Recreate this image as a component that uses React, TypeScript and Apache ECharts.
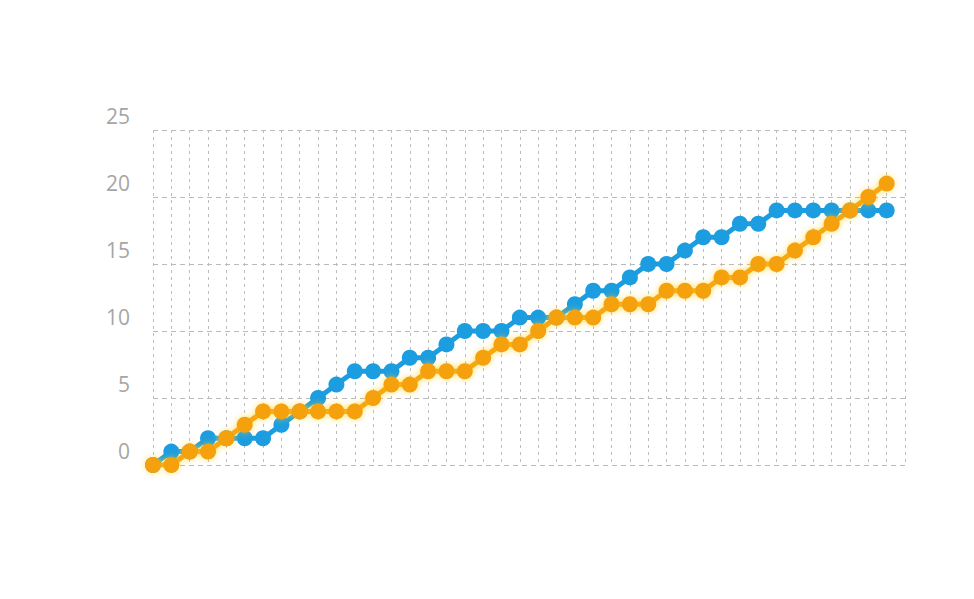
import { useEffect, useRef } from 'react';
import * as echarts from 'echarts';

// 横轴：41 个点，外加一个空位（最右的竖线）
const categories: string[] = Array.from({ length: 42 }, (_, i) => String(i + 1));

// 读图所得数值（刻度单位）
const blueValues = [
  -1, 0, 0, 1, 1, 1, 1, 2, 3, 4, 5, 6, 6, 6, 7, 7, 8, 9, 9, 9, 10,
  10, 10, 11, 12, 12, 13, 14, 14, 15, 16, 16, 17, 17, 18, 18, 18, 18, 18, 18, 18,
];
const orangeValues = [
  -1, -1, 0, 0, 1, 2, 3, 3, 3, 3, 3, 3, 4, 5, 5, 6, 6, 6, 7, 8, 8,
  9, 10, 10, 10, 11, 11, 11, 12, 12, 12, 13, 13, 14, 14, 15, 16, 17, 18, 19, 20,
];

// 网格线比刻度文字低一格，所以轴上整体 +1
const SHIFT = 1;
const yTicks = [0, 5, 10, 15, 20, 25];

export default function App() {
  const ref = useRef<HTMLDivElement>(null);

  useEffect(() => {
    if (!ref.current) return;
    const chart = echarts.init(ref.current, undefined, { renderer: 'svg' });
    const option: echarts.EChartsOption = {
      animation: false,
      backgroundColor: '#fff',
      grid: { left: 153, right: 69, top: 130, bottom: 134 },
      xAxis: {
        type: 'category',
        data: categories,
        boundaryGap: false,
        axisLine: { show: false },
        axisTick: { show: false },
        axisLabel: { show: false },
        splitLine: {
          show: true,
          lineStyle: { color: '#bdbdbd', width: 1, type: [3, 4] },
        },
      },
      yAxis: {
        type: 'value',
        min: 0,
        max: 25,
        interval: 5,
        axisLine: { show: false },
        axisTick: { show: false },
        axisLabel: {
          margin: 23,
          color: '#a6a6a6',
          fontSize: 21,
          fontFamily: 'Open Sans',
          verticalAlign: 'bottom',
          lineHeight: 28,
          formatter: (v: number) => (yTicks.includes(v) ? String(v) : ''),
        },
        splitLine: {
          show: true,
          lineStyle: { color: '#bababa', width: 1, type: [5, 4] },
        },
      },
      series: [
        {
          type: 'line',
          data: blueValues.map((v) => v + SHIFT),
          symbol: 'circle',
          symbolSize: 16,
          showSymbol: true,
          showAllSymbol: true,
          lineStyle: { color: '#1b9de0', width: 5 },
          itemStyle: { color: '#1b9de0' },
        },
        {
          type: 'line',
          data: orangeValues.map((v) => v + SHIFT),
          symbol: 'circle',
          symbolSize: 16,
          showSymbol: true,
          showAllSymbol: true,
          lineStyle: {
            color: '#f5a00f',
            width: 5,
            shadowColor: 'rgba(255, 210, 40, 0.6)',
            shadowBlur: 6,
          },
          itemStyle: {
            color: '#f5a00f',
            shadowColor: 'rgba(255, 210, 40, 0.6)',
            shadowBlur: 6,
          },
        },
      ],
    };
    chart.setOption(option);
    return () => {
      chart.dispose();
    };
  }, []);

  return (
    <div
      ref={ref}
      style={{ position: 'absolute', left: 0, top: 0, width: '974px', height: '599px' }}
    />
  );
}
